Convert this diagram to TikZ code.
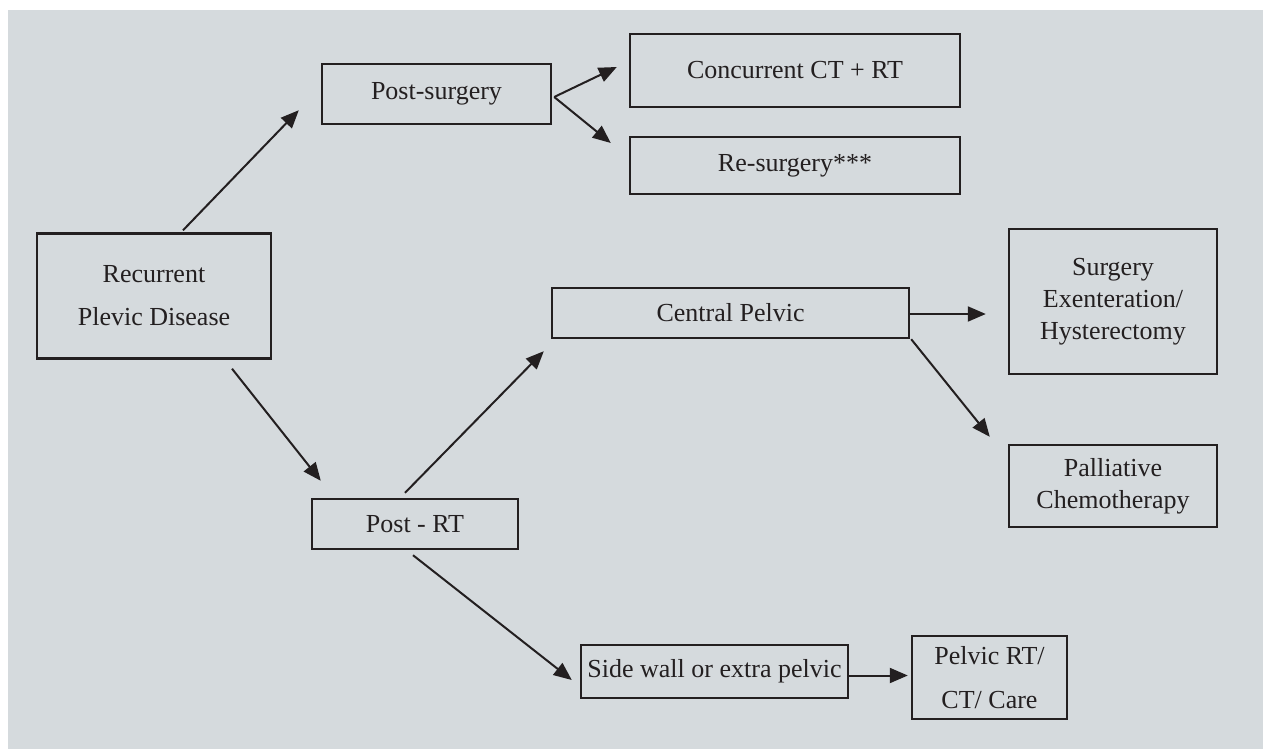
\documentclass[tikz,border=0pt]{standalone}
\usepackage{fontspec}
\setmainfont{Liberation Serif}
\usetikzlibrary{positioning,calc,arrows.meta}
\definecolor{panel}{HTML}{D5DADD}
\definecolor{ink}{HTML}{231F20}

\begin{document}
\begin{tikzpicture}[x=0.5pt,y=-0.5pt]
\tikzstyle{box} = [draw=ink, line width=1.2pt, text=ink, font=\fontsize{13}{16}\selectfont, align=center, inner sep=2pt];
\tikzstyle{arr} = [draw=ink, line width=1pt, -{Triangle[length=9pt,width=7.5pt]}];

\useasboundingbox (0,0) rectangle (1263,749);
\fill[panel] (8,10) rectangle (1263,749);

% boxes
\node[box, minimum width=117pt, minimum height=62.5pt] (rec) at (154,296) {Recurrent\\[5.5pt]Plevic Disease};
\node[box, minimum width=114.5pt, minimum height=30pt] (postsurg) at (436.5,94) {Post-surgery};
\node[box, minimum width=165pt, minimum height=36.5pt] (concur) at (795,70.5) {Concurrent CT + RT};
\node[box, minimum width=165pt, minimum height=28.5pt] (resurg) at (795,165.5) {Re-surgery***};
\node[box, minimum width=178.5pt, minimum height=25pt] (central) at (730.5,313) {Central Pelvic};
\node[box, minimum width=104pt, minimum height=72.5pt] (surgery) at (1113,301.5) {Surgery\\Exenteration/\\Hysterectomy};
\node[box, minimum width=104pt, minimum height=41pt] (palliative) at (1113,486) {Palliative\\Chemotherapy};
\node[box, minimum width=103pt, minimum height=25pt] (postrt) at (415,524) {Post - RT};
\node[box, minimum width=133.5pt, minimum height=26.5pt] (sidewall) at (714.5,671.5) {Side wall or extra pelvic};
\node[box, minimum width=77.5pt, minimum height=41.5pt] (pelvicrt) at (989.5,677.5) {Pelvic RT/\\[6pt]CT/ Care};

% arrows
\draw[arr] ([xshift=14.5pt,yshift=1pt]rec.north) -- ([xshift=-11pt,yshift=7.5pt]postsurg.south west);
\draw[arr] ([xshift=1pt,yshift=-1.5pt]postsurg.east) -- ([xshift=-6pt,yshift=1.75pt]concur.west);
\draw[arr] ([xshift=1pt,yshift=-1.5pt]postsurg.east) -- ([xshift=-9pt,yshift=11.25pt]resurg.west);
\draw[arr] ([xshift=39pt,yshift=-4.5pt]rec.south) -- ([xshift=5pt,yshift=8.5pt]postrt.north west);
\draw[arr] ([xshift=-5pt,yshift=2.5pt]postrt.north) -- ([xshift=-3.5pt,yshift=-6pt]central.south west);
\draw[arr, shorten >=11pt] ([yshift=-0.5pt]central.east) -- ([yshift=-0.5pt]central.east -| surgery.west);
\draw[arr] ([xshift=0.5pt]central.south east) -- ([xshift=-9pt,yshift=3.5pt]palliative.north west);
\draw[arr] ([xshift=-1pt,yshift=-2.5pt]postrt.south) -- ([xshift=-4pt,yshift=-4.25pt]sidewall.west);
\draw[arr, shorten >=1.5pt] ([yshift=-2pt]sidewall.east) -- ([yshift=-2pt]sidewall.east -| pelvicrt.west);
\end{tikzpicture}
\end{document}
